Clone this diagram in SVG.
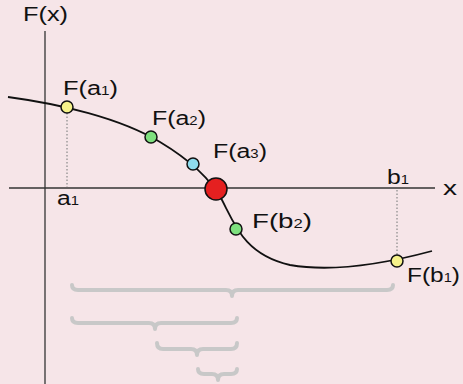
<svg xmlns="http://www.w3.org/2000/svg" width="463" height="384" viewBox="0 0 463 384">
<style>
.t{font-family:"Liberation Sans",Arial,sans-serif;font-size:20px;fill:#111}
.s{font-size:12px}
.axis{stroke:#333;stroke-width:1.3;fill:none}
.dot{stroke:#888;stroke-width:1.2;stroke-dasharray:1.5 2;fill:none}
.brace{stroke:#c8c8c8;stroke-width:4;fill:none;stroke-linecap:round;stroke-linejoin:round}
.pt{stroke:#111;stroke-width:1.5}
</style>
<rect width="463" height="384" fill="#f6e5e8"/>
<g id="connectors">
<line class="axis" x1="45" y1="31" x2="45" y2="384"/>
<line class="axis" x1="9" y1="188" x2="435" y2="188"/>
<line class="dot" x1="67" y1="113" x2="67" y2="187"/>
<line class="dot" x1="397" y1="190" x2="397" y2="255"/>
<path d="M8,97 C60,104 120,118 160,142 C190,160 210,178 222,200 C235,225 245,255 290,265 C330,272 380,265 432,251" fill="none" stroke="#111" stroke-width="1.8"/>
</g>
<g id="braces">
<path class="brace" d="M72,285 Q72,290 78,290 L226,290 Q232,290 232,296 Q232,290 238,290 L387,290 Q393,290 393,285"/>
<path class="brace" d="M72,318 Q72,323 78,323 L149,323 Q155,323 155,329 Q155,323 161,323 L231,323 Q237,323 237,318"/>
<path class="brace" d="M157,343 Q157,349 163,349 L191,349 Q197,349 197,355 Q197,349 203,349 L231,349 Q237,349 237,343"/>
<path class="brace" d="M198,369 Q198,374 204,374 L212,374 Q218,374 218,380 Q218,374 224,374 L231,374 Q237,374 237,369"/>
</g>
<g id="axis-labels">
<text class="t" x="23" y="21" textLength="45" lengthAdjust="spacingAndGlyphs">F(x)</text>
<text class="t" x="443" y="195" textLength="14" lengthAdjust="spacingAndGlyphs">x</text>
<text class="t" x="57" y="205" textLength="22" lengthAdjust="spacingAndGlyphs">a<tspan class="s">1</tspan></text>
<text class="t" x="387" y="184" textLength="22" lengthAdjust="spacingAndGlyphs">b<tspan class="s">1</tspan></text>
</g>
<g id="Fa1"><circle class="pt" cx="67" cy="107" r="6" fill="#f6f28a"/><text class="t" x="63" y="95" textLength="55" lengthAdjust="spacingAndGlyphs">F(a<tspan class="s">1</tspan>)</text></g>
<g id="Fa2"><circle class="pt" cx="151" cy="137" r="6" fill="#7ee07e"/><text class="t" x="152" y="125" textLength="54" lengthAdjust="spacingAndGlyphs">F(a<tspan class="s">2</tspan>)</text></g>
<g id="Fa3"><circle class="pt" cx="193" cy="164" r="6" fill="#8edcee"/><text class="t" x="213" y="158" textLength="54" lengthAdjust="spacingAndGlyphs">F(a<tspan class="s">3</tspan>)</text></g>
<g id="root"><circle class="pt" cx="216" cy="189" r="11" fill="#e52020"/></g>
<g id="Fb2"><circle class="pt" cx="236" cy="229" r="6" fill="#7ee07e"/><text class="t" x="252" y="228" textLength="60" lengthAdjust="spacingAndGlyphs">F(b<tspan class="s">2</tspan>)</text></g>
<g id="Fb1"><circle class="pt" cx="397" cy="261" r="6" fill="#f6f28a"/><text class="t" x="407" y="282" textLength="53" lengthAdjust="spacingAndGlyphs">F(b<tspan class="s">1</tspan>)</text></g>
</svg>
